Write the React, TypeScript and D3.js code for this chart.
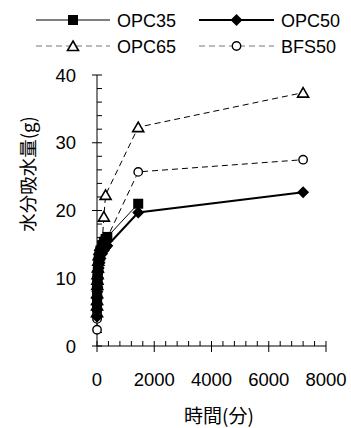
import React, { useRef, useEffect } from "react";
import * as d3 from "d3";

// measurement times (minutes) and water uptake (g)
const timesOPC35 = [1, 2, 3, 5, 10, 15, 20, 30, 45, 60, 90, 120, 180, 240, 300, 360, 1440];
const valuesOPC35 = [5.8, 6.6, 7.3, 8.2, 9.2, 9.9, 10.5, 11.3, 12.1, 12.7, 13.5, 14.1, 14.9, 15.4, 15.8, 16.1, 21.0];

const timesOPC50 = [1, 2, 3, 5, 10, 15, 20, 30, 45, 60, 90, 120, 180, 240, 300, 360, 1440, 7200];
const valuesOPC50 = [4.3, 5.3, 6.1, 7.0, 8.0, 8.7, 9.3, 10.1, 10.9, 11.5, 12.3, 12.9, 13.6, 14.1, 14.5, 14.8, 19.7, 22.7];

const timesOPC65 = [1, 2, 3, 5, 10, 15, 20, 30, 45, 60, 90, 120, 180, 240, 300, 1440, 7200];
const valuesOPC65 = [5.0, 6.0, 6.8, 7.8, 9.0, 9.8, 10.6, 11.6, 12.6, 13.4, 14.2, 14.8, 15.2, 19.1, 22.3, 32.3, 37.4];

const timesBFS50 = [1, 2, 3, 5, 10, 15, 20, 30, 45, 60, 90, 120, 180, 240, 300, 360, 1440, 7200];
const valuesBFS50 = [2.4, 4.0, 5.0, 6.2, 7.4, 8.3, 9.0, 9.9, 10.8, 11.4, 12.4, 13.1, 14.0, 14.8, 15.4, 16.0, 25.7, 27.5];

const seriesNames = ["OPC35", "OPC50", "OPC65", "BFS50"];
const xTicks = [0, 2000, 4000, 6000, 8000];
const yTicks = [0, 10, 20, 30, 40];

type Pt = { x: number; y: number };

const zip = (t: number[], v: number[]): Pt[] => t.map((x, i) => ({ x, y: v[i] }));

const NUM_FONT = "'Liberation Sans', Arial, sans-serif";
const JP_FONT = "'Noto Sans CJK JP', sans-serif";

export default function App() {
  const svgRef = useRef<SVGSVGElement | null>(null);

  useEffect(() => {
    if (!svgRef.current) return;
    const svg = d3.select(svgRef.current);
    svg.selectAll("*").remove();

    const x = d3.scaleLinear().domain([0, 8000]).range([97, 326]);
    const y = d3.scaleLinear().domain([0, 40]).range([346, 75]);

    const styles = [
      { name: seriesNames[0], data: zip(timesOPC35, valuesOPC35), dash: null, width: 1, marker: "square" },
      { name: seriesNames[1], data: zip(timesOPC50, valuesOPC50), dash: null, width: 2, marker: "diamond" },
      { name: seriesNames[2], data: zip(timesOPC65, valuesOPC65), dash: "6,4", width: 1, marker: "triangle" },
      { name: seriesNames[3], data: zip(timesBFS50, valuesBFS50), dash: "6,4", width: 1, marker: "circle" },
    ];

    const drawMarker = (g: any, kind: string, cx: number, cy: number) => {
      if (kind === "square") {
        g.append("rect").attr("x", cx - 5).attr("y", cy - 5).attr("width", 10).attr("height", 10).attr("fill", "#000");
      } else if (kind === "diamond") {
        g.append("path").attr("d", `M${cx},${cy - 6}L${cx + 6},${cy}L${cx},${cy + 6}L${cx - 6},${cy}Z`).attr("fill", "#000");
      } else if (kind === "triangle") {
        g.append("path")
          .attr("d", `M${cx},${cy - 5}L${cx + 5.5},${cy + 4.5}L${cx - 5.5},${cy + 4.5}Z`)
          .attr("fill", "#fff").attr("stroke", "#000").attr("stroke-width", 1.6);
      } else {
        g.append("circle").attr("cx", cx).attr("cy", cy).attr("r", 4.2)
          .attr("fill", "#fff").attr("stroke", "#000").attr("stroke-width", 1.4);
      }
    };

    // axes
    const ax = svg.append("g").attr("stroke", "#000").attr("stroke-width", 1);
    ax.append("line").attr("x1", x(0)).attr("x2", x(0)).attr("y1", y(0)).attr("y2", y(40));
    ax.append("line").attr("x1", x(0)).attr("x2", x(8000)).attr("y1", y(0)).attr("y2", y(0));
    d3.range(0, 41, 2).forEach((v) => {
      const major = v % 10 === 0;
      ax.append("line").attr("x1", x(0) - (major ? 5 : 0)).attr("x2", x(0) + 5).attr("y1", y(v)).attr("y2", y(v));
    });
    d3.range(0, 8001, 400).forEach((v) => {
      const major = v % 2000 === 0;
      ax.append("line").attr("x1", x(v)).attr("x2", x(v)).attr("y1", y(0) - 5).attr("y2", y(0) + (major ? 6 : 0));
    });

    svg.selectAll(".ylab").data(yTicks).enter().append("text")
      .attr("x", 76).attr("y", (d) => y(d) + 6.5)
      .attr("text-anchor", "end").attr("font-family", NUM_FONT).attr("font-size", 18.5)
      .text((d) => d);
    svg.selectAll(".xlab").data(xTicks).enter().append("text")
      .attr("x", (d) => x(d)).attr("y", 386)
      .attr("text-anchor", "middle").attr("font-family", NUM_FONT).attr("font-size", 18.5)
      .text((d) => d);

    svg.append("text").attr("x", 219).attr("y", 423).attr("text-anchor", "middle")
      .attr("font-family", JP_FONT).attr("font-size", 19).text("時間(分)");
    svg.append("text").attr("transform", "translate(35,174) rotate(-90)").attr("text-anchor", "middle")
      .attr("font-family", JP_FONT).attr("font-size", 18.5).text("水分吸水量(g)");

    // series lines and markers
    const line = d3.line<Pt>().x((d) => x(d.x)).y((d) => y(d.y));
    const order = [3, 2, 0, 1];
    order.forEach((i) => {
      const s = styles[i];
      svg.append("path").attr("d", line(s.data)).attr("fill", "none").attr("stroke", "#000")
        .attr("stroke-width", s.width).attr("stroke-dasharray", s.dash);
    });
    order.forEach((i) => {
      const s = styles[i];
      const g = svg.append("g");
      s.data.forEach((d) => drawMarker(g, s.marker, x(d.x), y(d.y)));
    });

    // legend
    const legendPos = [
      { x1: 36, x2: 110, y: 20, tx: 117, ty: 27 },
      { x1: 199, x2: 274, y: 20, tx: 281, ty: 27 },
      { x1: 36, x2: 110, y: 46, tx: 117, ty: 53 },
      { x1: 199, x2: 274, y: 46, tx: 281, ty: 53 },
    ];
    styles.forEach((s, i) => {
      const p = legendPos[i];
      const g = svg.append("g");
      g.append("line").attr("x1", p.x1).attr("x2", p.x2).attr("y1", p.y).attr("y2", p.y)
        .attr("stroke", s.dash ? "#777" : "#000").attr("stroke-width", s.width).attr("stroke-dasharray", s.dash);
      drawMarker(g, s.marker, (p.x1 + p.x2) / 2, p.y);
      g.append("text").attr("x", p.tx).attr("y", p.ty).attr("font-family", NUM_FONT).attr("font-size", 18).text(s.name);
    });
  }, []);

  return (
    <div>
      <svg ref={svgRef} width={351} height={428} style={{ position: "absolute", left: 0, top: 0 }}></svg>
    </div>
  );
}
